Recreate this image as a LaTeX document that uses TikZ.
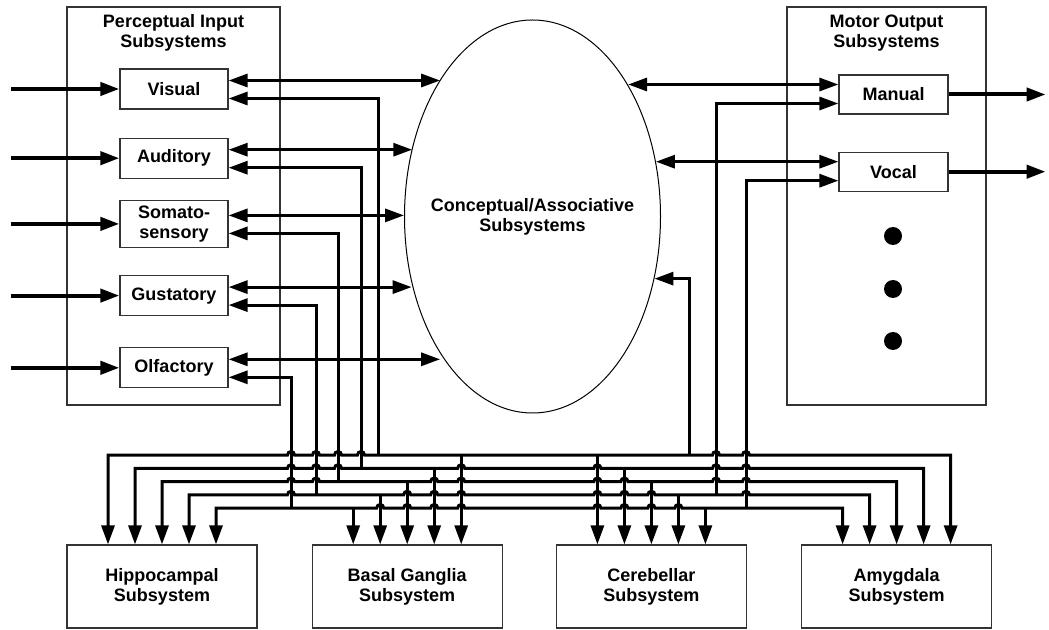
\documentclass[tikz,border=0pt]{standalone}
\usepackage{fontspec}
\setmainfont{Liberation Sans}
\usetikzlibrary{arrows.meta,positioning,calc,fit,shapes.geometric}

\begin{document}
\begin{tikzpicture}[x=0.5pt, y=-0.5pt,
  font=\fontsize{9}{10}\selectfont\bfseries,
  group/.style={draw=black!80, line width=0.6pt, inner sep=0pt},
  box/.style={draw=black!80, line width=0.6pt, fill=white, align=center, inner sep=0pt, minimum width=54pt, minimum height=20pt},
  sub/.style={box, minimum width=95pt, minimum height=41.5pt},
  head/.style={align=center, inner sep=0pt},
  dot/.style={circle, fill=black, inner sep=0pt, minimum size=9pt},
  arr/.style={-{Triangle[length=9.5pt, width=6.5pt]}, line width=1.5pt},
  dbl/.style={{Triangle[length=9.5pt, width=6.5pt]}-{Triangle[length=9.5pt, width=6.5pt]}, line width=1.5pt},
  io/.style={arr, line width=2pt},
]
\useasboundingbox (0,0) rectangle (1049,630);

% perceptual side
\node[group, fit={(67,7) (280,405)}] (percep) {};
\node[head, below=4pt of percep.north] (percephd) {Perceptual Input\\Subsystems};
\node[box] (vis) at (174,89) {Visual};
\node[box, below=14pt of vis] (aud) {Auditory};
\node[box, minimum height=23.5pt, below=10.5pt of aud] (som) {Somato-\\sensory};
\node[box, below=13.5pt of som] (gus) {Gustatory};
\node[box, below=15.5pt of gus] (olf) {Olfactory};

% motor side
\node[group, fit={(787,7) (986,405)}] (motor) {};
\node[head, below=4pt of motor.north] (motorhd) {Motor Output\\Subsystems};
\node[box, minimum width=54.5pt, minimum height=19.5pt] (man) at (893.5,94.5) {Manual};
\node[box, minimum width=54.5pt, minimum height=19.5pt, below=18.5pt of man] (voc) {Vocal};
\foreach \i/\y in {1/236,2/289,3/341}
  \node[dot] (dot\i) at (893,\y) {};

% conceptual ellipse
\node[draw, ellipse, line width=0.5pt, minimum width=128pt, minimum height=196.5pt, inner sep=0pt] (concept) at (532.5,216.5) {};
\node[head] (conceptlbl) at (concept.center) {Conceptual/Associative\\Subsystems};

% lower subsystems
\node[sub] (hip) at (162,586.5) {Hippocampal\\Subsystem};
\node[sub, right=27pt of hip] (bas) {Basal Ganglia\\Subsystem};
\node[sub, right=26.5pt of bas] (cer) {Cerebellar\\Subsystem};
\node[sub, right=27pt of cer] (amy) {Amygdala\\Subsystem};

\foreach \b in {hip,bas,cer,amy}
  \foreach \k in {1,...,5}
    \coordinate (\b\k) at ($(\b.north)+({27*(\k-3)},0)$);
\foreach \i/\y in {1/455,2/468.25,3/481.5,4/494.75,5/508}
  \coordinate (lvl\i) at (0,\y);

% senses in, and links to the ellipse
\foreach \n/\a in {vis/124,aud/150,som/178,gus/209,olf/236} {
  \coordinate (\n-in) at ($(\n.west)+(-108,0)$);
  \coordinate (\n-out) at ($(\n.east)+(0,-8.5)$);
  \draw[io] (\n-in) -- (\n);
  \draw[dbl] (\n-out) -- (\n-out -| concept.\a);
}
\foreach \n/\a in {man/54,voc/24.5} {
  \coordinate (\n-out) at ($(\n.west)+(0,-10)$);
  \coordinate (\n-end) at ($(\n.east)+(97,0)$);
  \draw[dbl] (\n-out -| concept.\a) -- (\n-out);
  \draw[io] (\n) -- (\n-end);
}

% taps off the bus going up
\foreach \n/\x/\l in {vis/378/1,aud/361/2,som/338/3,gus/316/4,olf/291/5} {
  \coordinate (t\n) at ($(lvl\l)+(\x,0)$);
  \draw[arr] (t\n) |- ($(\n.east)+(0,9.5)$);
}
\coordinate (tcon) at ($(lvl1)+(689,0)$);
\coordinate (tman) at ($(lvl4)+(716,0)$);
\coordinate (tvoc) at ($(lvl5)+(746,0)$);
\draw[arr] (tcon) |- (concept.333);
\draw[arr] (tman) |- ($(man.west)+(0,9)$);
\draw[arr] (tvoc) |- ($(voc.west)+(0,9)$);

% drops from the bus
\foreach \k/\l in {1/5,2/4,3/3,4/2,5/1}
  \draw[arr] (bas\k |- lvl\l) -- (bas\k);
\foreach \k in {1,...,5}
  \draw[arr] (cer\k |- lvl\k) -- (cer\k);

% the five bus lines, hopping over the verticals
\draw[dbl] (hip1) -- (hip1 |- lvl1)
  \foreach \c in {tolf,tgus,tsom,taud,tman,tvoc} { -- ($(\c |- lvl1)+(-3.5,0)$) arc[start angle=180, end angle=0, radius=1.75pt] }
  -- (amy5 |- lvl1) -- (amy5);
\draw[dbl] (hip2) -- (hip2 |- lvl2)
  \foreach \c in {tolf,tgus,tsom,bas5,cer1,tman,tvoc} { -- ($(\c |- lvl2)+(-3.5,0)$) arc[start angle=180, end angle=0, radius=1.75pt] }
  -- (amy4 |- lvl2) -- (amy4);
\draw[dbl] (hip3) -- (hip3 |- lvl3)
  \foreach \c in {tolf,tgus,bas4,bas5,cer1,cer2,tman,tvoc} { -- ($(\c |- lvl3)+(-3.5,0)$) arc[start angle=180, end angle=0, radius=1.75pt] }
  -- (amy3 |- lvl3) -- (amy3);
\draw[dbl] (hip4) -- (hip4 |- lvl4)
  \foreach \c in {tolf,bas3,bas4,bas5,cer1,cer2,cer3,tvoc} { -- ($(\c |- lvl4)+(-3.5,0)$) arc[start angle=180, end angle=0, radius=1.75pt] }
  -- (amy2 |- lvl4) -- (amy2);
\draw[dbl] (hip5) -- (hip5 |- lvl5)
  \foreach \c in {bas2,bas3,bas4,bas5,cer1,cer2,cer3,cer4} { -- ($(\c |- lvl5)+(-3.5,0)$) arc[start angle=180, end angle=0, radius=1.75pt] }
  -- (amy1 |- lvl5) -- (amy1);
\end{tikzpicture}
\end{document}
